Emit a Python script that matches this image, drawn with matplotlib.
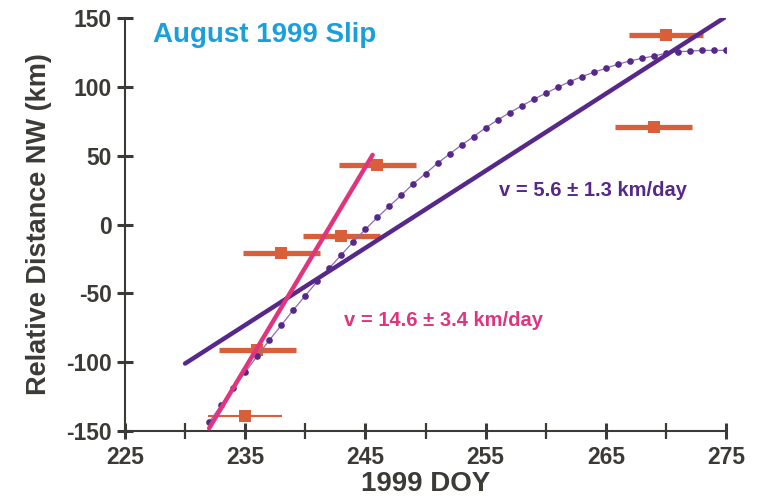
import matplotlib
matplotlib.use("Agg")
import matplotlib.pyplot as plt
import numpy as np

# Observed positions (day of year, km NW) with horizontal uncertainty (days)
obs_day = [235.0, 236.0, 238.0, 243.0, 246.0, 270.0, 269.0]
obs_dist = [-139.0, -91.0, -21.0, -8.0, 43.0, 138.0, 71.0]
obs_err = [3.1, 3.2, 3.2, 3.2, 3.2, 3.1, 3.2]

# Model curve sampled once per day
model_day = list(range(232, 276))
model_dist = [-143.6, -131.1, -119.0, -107.3, -95.5, -84.1, -73.2, -62.1,
              -51.7, -41.3, -31.6, -22.0, -12.5, -3.5, 5.2, 13.4, 21.4,
              29.7, 37.0, 44.5, 51.2, 57.8, 63.8, 70.3, 75.9, 81.3, 86.1,
              91.0, 95.3, 99.7, 103.8, 107.4, 110.6, 113.5, 116.4, 118.8,
              120.7, 122.4, 124.4, 125.5, 126.0, 126.5, 126.5, 126.5]

# Linear fits: velocity (km/day) and uncertainty
slow_v, slow_dv = 5.6, 1.3
slow_span = [230.0, 275.0]
slow_start = -101.0
fast_v, fast_dv = 14.6, 3.4
fast_span = [232.0, 245.6]
fast_start = -148.0

x_major = [225, 235, 245, 255, 265, 275]
x_minor = [230, 240, 250, 260, 270]
y_ticks = [-150, -100, -50, 0, 50, 100, 150]

AX = "#3b3a36"
PURPLE = "#56288a"
PINK = "#e0347f"
ORANGE = "#d95f3a"
BLUE = "#1b9fda"

plt.rcParams["font.family"] = ["Liberation Sans", "DejaVu Sans"]
plt.rcParams["font.weight"] = "bold"

fig = plt.figure(figsize=(7.57, 5.03), dpi=100)
ax = fig.add_axes([0.1651, 0.1431, 0.7940, 0.8211])

# observations
for i, (d, v, e) in enumerate(zip(obs_day, obs_dist, obs_err)):
    lw = 1.5 if i == 0 else 3.8
    ax.errorbar([d], [v], xerr=[e], fmt="s", color=ORANGE, ecolor=ORANGE,
                elinewidth=lw, capsize=0, markersize=8.5 if i == 0 else 8,
                markeredgewidth=0, zorder=2)

# model curve
ax.plot(model_day, model_dist, color="#8a6cb5", lw=0.9, zorder=3)
ax.plot(model_day, model_dist, "o", color=PURPLE, ms=4.8, mew=0, zorder=3)

# slow fit
sx = np.array(slow_span)
ax.plot(sx, slow_start + slow_v * (sx - sx[0]), color=PURPLE, lw=3.2,
        solid_capstyle="round", zorder=4)

# fast fit
fx = np.array(fast_span)
ax.plot(fx, fast_start + fast_v * (fx - fx[0]), color=PINK, lw=3.2,
        solid_capstyle="round", zorder=5)

ax.text(263.9, 25, f"v = {slow_v} \u00b1 {slow_dv} km/day", color=PURPLE,
        fontsize=14.5, fontweight="bold", ha="center", va="center")
ax.text(251.5, -70, f"v = {fast_v} \u00b1 {fast_dv} km/day", color=PINK,
        fontsize=14.5, fontweight="bold", ha="center", va="center")

ax.text(227.3, 138, "August 1999 Slip", color=BLUE, fontsize=20,
        fontweight="bold", ha="left", va="center")

ax.set_xlim(225, 275)
ax.set_ylim(-150, 150)
ax.set_xticks(x_major)
ax.set_xticks(x_minor, minor=True)
ax.set_yticks(y_ticks)
ax.set_xticklabels([str(t) for t in x_major])
ax.set_yticklabels([str(t) for t in y_ticks])

for s in ["top", "right"]:
    ax.spines[s].set_visible(False)
for s in ["left", "bottom"]:
    ax.spines[s].set_color(AX)
    ax.spines[s].set_linewidth(1.5)

ax.tick_params(axis="both", which="major", direction="inout", length=11,
               width=2.2, color=AX, labelcolor=AX, labelsize=16.5)
ax.tick_params(axis="x", which="minor", direction="inout", length=11,
               width=1.6, color=AX)
ax.tick_params(axis="x", which="major", pad=5)
ax.tick_params(axis="y", which="major", pad=4)

ax.set_xlabel("1999 DOY", fontsize=20, fontweight="bold", color=AX,
              labelpad=1.5)
ax.set_ylabel("Relative Distance NW (km)", fontsize=19.5, fontweight="bold",
              color=AX, labelpad=10)

fig.savefig("out.png", dpi=100)
